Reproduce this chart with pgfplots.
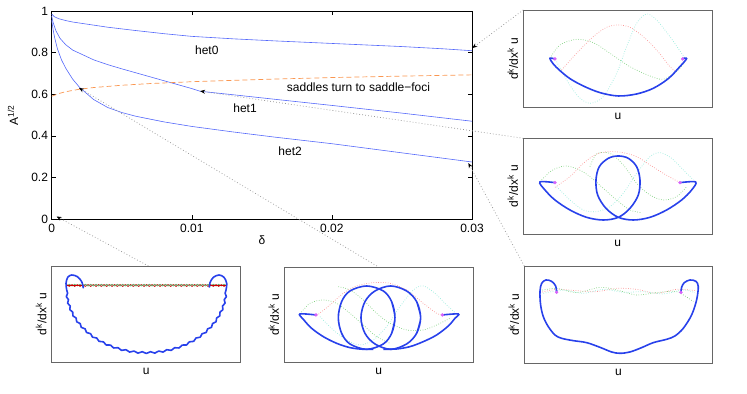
\documentclass[border=0pt]{standalone}
\usepackage{fontspec}
\setmainfont{Liberation Sans}
\usepackage{pgfplots}
\pgfplotsset{compat=1.18}
\usetikzlibrary{arrows.meta}

\definecolor{hetblue}{RGB}{85,105,250}
\definecolor{sadorange}{RGB}{250,150,80}
\definecolor{orbit}{RGB}{40,65,235}
\definecolor{dgreen}{RGB}{130,210,130}
\definecolor{dred}{RGB}{250,150,150}
\definecolor{dcyan}{RGB}{150,235,220}
\definecolor{eqpt}{RGB}{215,100,250}
\definecolor{connc}{RGB}{150,150,150}

\pgfplotsset{
  inset/.style={scale only axis, y dir=reverse, xtick=\empty, ytick=\empty,
    axis line style={black!60, line width=0.8bp},
    xlabel={u}, ylabel={d\textsuperscript{k}/dx\textsuperscript{k} u},
    xlabel style={at={(axis description cs:0.5,-0.06)}, anchor=north, inner sep=0pt},
    ylabel style={at={(axis description cs:-0.027,0.5)}, anchor=south, inner sep=0pt}},
  orb/.style={color=orbit, line width=1.6bp, smooth, tension=0.55},
  gd/.style={color=dgreen, dash pattern=on 0.7bp off 1.7bp, line width=0.7bp, smooth},
  rd/.style={color=dred, dash pattern=on 0.7bp off 1.7bp, line width=0.7bp, smooth},
  cd/.style={color=dcyan, dash pattern=on 0.7bp off 1.7bp, line width=0.7bp, smooth},
  eq/.style={only marks, mark=*, mark size=1.5bp, color=eqpt},
  conn/.style={color=connc, dash pattern=on 0.8bp off 2.2bp, line width=0.7bp,
    -{Stealth[length=5bp,width=4bp,color=black]}},
}

\begin{document}
\fontsize{12bp}{14bp}\selectfont
\begin{tikzpicture}
\path[use as bounding box] (0,0) rectangle (747bp,394bp);

% main diagram
\begin{axis}[at={(51.7bp,175bp)}, anchor=south west, scale only axis,
  width=420.3bp, height=208bp,
  xmin=0, xmax=0.03, ymin=0, ymax=1,
  xtick={0,0.01,0.02,0.03}, xticklabels={0,0.01,0.02,0.03},
  ytick={0,0.2,0.4,0.6,0.8,1}, yticklabels={0,0.2,0.4,0.6,0.8,1},
  scaled x ticks=false, tick align=inside, major tick length=4bp,
  tick style={black, line width=0.5bp}, axis line style={line width=0.6bp},
  xticklabel style={inner sep=0pt, yshift=-5bp},
  yticklabel style={inner sep=0pt, xshift=-3.5bp},
  xlabel={δ}, ylabel={A\textsuperscript{1/2}},
  xlabel style={at={(axis description cs:0.5,-0.079)}, anchor=north, inner sep=0pt},
  ylabel style={at={(axis description cs:-0.0795,0.5)}, anchor=south, inner sep=0pt},
  clip=false]
\addplot[color=hetblue, line width=0.6bp] coordinates {(0,0.985)(0.0002,0.972)(0.0005,0.963)(0.001,0.954)(0.0015,0.947)(0.002,0.942)(0.003,0.932)(0.004,0.922)(0.005,0.914)(0.006,0.906)(0.008,0.891)(0.01,0.878)(0.013,0.866)(0.016,0.856)(0.02,0.844)(0.025,0.829)(0.028,0.818)(0.03,0.809)};
\addplot[color=hetblue, line width=0.6bp] coordinates {(0,0.975)(0.0001,0.945)(0.0003,0.905)(0.0006,0.868)(0.001,0.838)(0.0015,0.812)(0.0023,0.787)(0.003,0.765)(0.004,0.742)(0.005,0.722)(0.006,0.703)(0.008,0.665)(0.01,0.627)(0.0106,0.614)(0.013,0.597)(0.016,0.575)(0.02,0.546)(0.025,0.509)(0.03,0.470)};
\addplot[color=hetblue, line width=0.6bp] coordinates {(0,0.955)(0.0001,0.91)(0.0002,0.875)(0.0004,0.82)(0.0007,0.765)(0.001,0.725)(0.0015,0.672)(0.002,0.632)(0.003,0.574)(0.004,0.536)(0.005,0.512)(0.006,0.494)(0.008,0.467)(0.01,0.445)(0.013,0.418)(0.016,0.393)(0.02,0.362)(0.025,0.318)(0.03,0.274)};
\addplot[color=sadorange, line width=0.7bp, dash pattern=on 5bp off 3bp] coordinates {(0,0.59)(0.0005,0.603)(0.001,0.612)(0.002,0.624)(0.003,0.632)(0.005,0.643)(0.007,0.651)(0.01,0.66)(0.015,0.671)(0.02,0.68)(0.025,0.687)(0.03,0.693)};
\node at (axis cs:0.01107,0.8125) {het0};
\node at (axis cs:0.0138,0.532) {het1};
\node at (axis cs:0.01702,0.324) {het2};
\node at (axis cs:0.0219,0.633) {saddles turn to saddle−foci};
\addplot[conn] coordinates {(0.03366,1.005)(0.03002,0.822)};
\addplot[conn] coordinates {(0.03366,0.388)(0.01059,0.615)};
\addplot[conn] coordinates {(0.03373,-0.226)(0.02974,0.269)};
\addplot[conn] coordinates {(0.02321,-0.226)(0.00195,0.63)};
\addplot[conn] coordinates {(0.0069,-0.226)(0.00035,0.012)};
\end{axis}

% top right: het0
\begin{axis}[inset, at={(523.3bp,286.7bp)}, anchor=south west,
  width=189.3bp, height=97bp, xmin=100, xmax=668, ymin=31, ymax=322]
\addplot[gd] coordinates {(180,175)(210,135)(260,118)(310,128)(360,160)(420,200)(480,228)(520,238)(560,215)(585,185)};
\addplot[rd] coordinates {(215,210)(260,160)(310,110)(350,82)(385,75)(420,82)(460,110)(500,150)(540,200)(555,212)};
\addplot[cd] coordinates {(200,185)(230,240)(265,290)(300,310)(340,290)(380,220)(410,140)(440,70)(470,42)(500,60)(540,110)(575,160)(590,180)};
\addplot[orb] coordinates {(195,177)(180,175)(190,192)(210,212)(240,236)(280,258)(330,278)(385,288)(440,282)(490,265)(535,236)(568,202)(590,176)(578,176)};
\addplot[eq] coordinates {(195,177)(578,177)};
\end{axis}

% middle right: het1
\begin{axis}[inset, at={(523.3bp,160bp)}, anchor=south west,
  width=189bp, height=95.7bp, xmin=100, xmax=667, ymin=25, ymax=312]
\addplot[gd] coordinates {(150,155)(185,122)(225,108)(265,118)(300,140)(340,175)(380,210)(420,240)(455,248)};
\addplot[gd] coordinates {(300,110)(320,72)(360,70)(400,105)(440,160)(480,195)(520,210)(560,200)(590,170)};
\addplot[rd] coordinates {(195,172)(240,140)(280,100)(320,72)(360,65)(400,68)(440,80)(480,105)(520,130)(555,150)(570,158)};
\addplot[cd] coordinates {(200,170)(240,210)(280,240)(320,245)(360,230)(400,190)(440,130)(480,80)(510,68)(545,85)(580,120)(610,150)};
\addplot[orb] coordinates {(195,158)(150,156)(165,180)(195,210)(240,240)(290,262)(340,270)(385,262)(420,235)(445,195)(450,150)(440,110)(415,85)(385,78)(355,85)(328,110)(318,150)(323,195)(348,235)(385,262)(430,270)(480,262)(530,240)(575,210)(605,180)(617,156)(570,158)};
\addplot[eq] coordinates {(195,158)(570,158)};
\end{axis}

% bottom right: het2
\begin{axis}[inset, at={(524.3bp,30.7bp)}, anchor=south west,
  width=188.3bp, height=97.3bp, xmin=103, xmax=668, ymin=48, ymax=340]
\addplot[rd] coordinates {(150,128)(200,118)(260,122)(320,125)(380,115)(440,118)(500,130)(560,118)(620,122)};
\addplot[gd] coordinates {(150,122)(200,115)(260,128)(330,112)(380,120)(440,135)(500,128)(560,125)(610,155)};
\addplot[cd] coordinates {(160,130)(220,120)(280,130)(340,118)(400,127)(460,125)(520,132)(580,120)(615,128)};
\addplot[orb] coordinates {(200,127)(197,108)(185,94)(168,90)(155,100)(150,125)(152,165)(160,200)(175,230)(195,255)(215,265)(250,272)(290,278)(330,292)(365,306)(390,310)(420,306)(455,293)(490,278)(530,268)(555,258)(580,235)(605,195)(620,150)(625,110)(618,94)(600,90)(583,98)(575,112)(573,127)};
\addplot[eq] coordinates {(200,127)(573,127)};
\end{axis}

% bottom left: near delta = 0
\begin{axis}[inset, at={(51.7bp,31.7bp)}, anchor=south west,
  width=189bp, height=96.3bp, xmin=155, xmax=722, ymin=48, ymax=337]
\addplot[color=red!75!black, line width=0.8bp] coordinates {(200,104)(208,109)(216,104)(224,109)(232,104)(240,109)(248,104)(256,109)(264,104)(272,109)(280,104)(288,109)(296,104)(304,109)(312,104)(320,109)(328,104)(336,109)(344,104)(352,109)(360,104)(368,109)(376,104)(384,109)(392,104)(400,109)(408,104)(416,109)(424,104)(432,109)(440,104)(448,109)(456,104)(464,109)(472,104)(480,109)(488,104)(496,109)(504,104)(512,109)(520,104)(528,109)(536,104)(544,109)(552,104)(560,109)(568,104)(576,109)(584,104)(592,109)(600,104)(608,109)(616,104)(624,109)(632,104)(640,109)(648,104)(656,109)(664,104)(672,109)(680,104)};
\addplot[color=dgreen!80!black, line width=0.8bp] coordinates {(200,108)(208,103)(216,108)(224,103)(232,108)(240,103)(248,108)(256,103)(264,108)(272,103)(280,108)(288,103)(296,108)(304,103)(312,108)(320,103)(328,108)(336,103)(344,108)(352,103)(360,108)(368,103)(376,108)(384,103)(392,108)(400,103)(408,108)(416,103)(424,108)(432,103)(440,108)(448,103)(456,108)(464,103)(472,108)(480,103)(488,108)(496,103)(504,108)(512,103)(520,108)(528,103)(536,108)(544,103)(552,108)(560,103)(568,108)(576,103)(584,108)(592,103)(600,108)(608,103)(616,108)(624,103)(632,108)(640,103)(648,108)(656,103)(664,108)(672,103)(680,108)};
\addplot[color=red!80!black, line width=1.3bp] coordinates {(200,106)(248,106)};
\addplot[color=red!80!black, line width=1.3bp] coordinates {(630,107)(680,107)};
\addplot[orb] coordinates {(250,115)(245,95)(232,80)(215,75)(203,82)(198,100)(200,120)};
\addplot[color=orbit, line width=1.6bp, line join=round] coordinates {(200,120)(202.8,129.7)(198.8,139.9)(205.4,149.0)(202.8,159.6)(210.6,168.0)(209.3,178.9)(218.2,186.5)(218.4,197.5)(228.3,204.2)(229.9,215.3)(240.6,221.0)(243.6,232.0)(255.2,236.7)(259.5,247.5)(271.8,251.2)(277.4,261.6)(290.2,264.2)(297.0,274.1)(310.2,275.6)(318.3,285.0)(331.6,285.3)(340.8,294.0)(354.2,293.2)(364.4,301.2)(377.8,299.2)(388.8,306.3)(402.0,303.2)(413.8,309.5)(426.6,305.2)(439,310.5)(451.4,305.2)(464.2,309.5)(476.0,303.2)(489.2,306.3)(500.2,299.2)(513.6,301.2)(523.8,293.2)(537.2,294.0)(546.4,285.3)(559.7,285.0)(567.8,275.6)(581.0,274.1)(587.8,264.2)(600.6,261.6)(606.2,251.2)(618.5,247.5)(622.8,236.7)(634.4,232.0)(637.4,221.0)(648.1,215.3)(649.7,204.2)(659.6,197.5)(659.8,186.5)(668.7,178.9)(667.4,168.0)(675.2,159.6)(672.6,149.0)(679.2,139.9)(675.2,129.7)(678,120)};
\addplot[orb] coordinates {(678,120)(680,100)(672,82)(657,75)(640,82)(630,98)(628,113)};
\end{axis}

% bottom middle
\begin{axis}[inset, at={(284.3bp,31.7bp)}, anchor=south west,
  width=189bp, height=95bp, xmin=103, xmax=670, ymin=52, ymax=337]
\addplot[gd] coordinates {(150,192)(180,160)(220,150)(260,160)(300,190)(340,225)(380,260)(420,280)};
\addplot[gd] coordinates {(265,110)(300,120)(340,150)(380,190)(420,220)(470,240)(520,240)(560,225)(600,205)};
\addplot[rd] coordinates {(200,197)(240,165)(280,130)(320,108)(370,98)(420,100)(470,120)(520,160)(560,190)(575,195)};
\addplot[cd] coordinates {(210,200)(250,240)(290,270)(330,285)(370,270)(410,230)(450,170)(490,120)(520,108)(555,130)(590,165)(620,192)};
\addplot[orb] coordinates {(198,195)(150,192)(160,208)(185,235)(220,260)(260,280)(300,293)(340,298)(370,298)};
\addplot[orb] coordinates {(400,298)(440,297)(480,290)(520,275)(560,255)(595,228)(615,205)(625,192)(577,195)};
\addplot[orb] coordinates {(425,250)(435,203)(425,155)(400,123)(350,108)(300,123)(275,155)(265,203)(275,250)(300,282)(350,298)(400,282)(425,250)(435,203)(425,155)};
\addplot[orb] coordinates {(500,250)(512,203)(500,155)(470,123)(422,108)(375,123)(345,155)(333,203)(345,250)(375,282)(422,298)(470,282)(500,250)(512,203)(500,155)};
\addplot[eq] coordinates {(198,195)(577,195)};
\end{axis}
\end{tikzpicture}
\end{document}
